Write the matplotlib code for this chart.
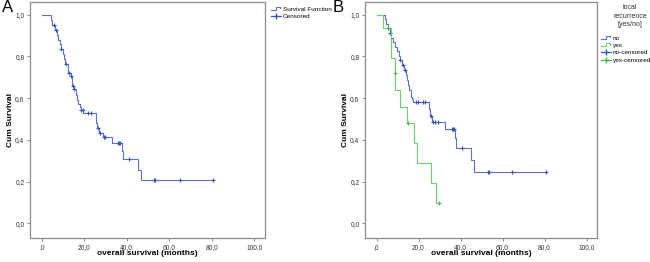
import numpy as np
import matplotlib.pyplot as plt
from matplotlib.lines import Line2D
from matplotlib.legend_handler import HandlerBase

plt.rcParams['font.family'] = ['Liberation Sans', 'DejaVu Sans']

# Panel A: overall Kaplan-Meier curve (event times / survival after each step)
A_TIMES = [0, 4.2, 5.0, 6.2, 7.2, 7.8, 8.5, 9.0, 10.0, 10.6, 11.0, 12.2, 12.6, 13.6,
           14.1, 14.4, 15.2, 16.0, 16.5, 17.3, 17.9, 18.6, 19.6, 25.3, 25.7, 26.0,
           26.8, 28.9, 33.0, 37.7, 38.2, 45.4, 46.5]
A_SURV = [1.0, 0.976, 0.952, 0.928, 0.904, 0.88, 0.857, 0.835, 0.81, 0.787, 0.763,
          0.741, 0.719, 0.705, 0.68, 0.658, 0.642, 0.615, 0.59, 0.574, 0.559, 0.545,
          0.53, 0.503, 0.479, 0.455, 0.431, 0.412, 0.386, 0.345, 0.308, 0.256, 0.207]
A_END = 80.7
A_CENS = [5.6, 6.5, 9.2, 11.3, 12.7, 13.9, 14.6, 15.4, 18.7, 19.2, 21.8, 23.0, 26.4,
          27.6, 29.3, 29.9, 36.0, 36.5, 37.0, 41.2, 52.8, 53.4, 64.8, 80.7]

# Panel B: local recurrence no / yes
NO_TIMES = [0, 4.0, 4.6, 5.3, 6.2, 7.0, 7.6, 8.6, 9.9, 10.8, 11.2, 12.2, 13.0, 14.0,
            14.4, 15.0, 15.3, 16.2, 16.8, 17.5, 24.8, 25.4, 26.3, 32.6, 37.4, 38.0,
            45.0, 46.3]
NO_SURV = [1.0, 0.978, 0.956, 0.934, 0.912, 0.89, 0.868, 0.846, 0.824, 0.80, 0.782,
           0.758, 0.734, 0.71, 0.687, 0.663, 0.639, 0.607, 0.595, 0.583, 0.548, 0.516,
           0.484, 0.452, 0.41, 0.362, 0.303, 0.244]
NO_END = 80.7
NO_CENS = [5.6, 6.4, 11.3, 12.5, 13.6, 18.8, 19.7, 22.2, 23.0, 25.8, 26.8, 27.8, 29.5,
           35.8, 36.3, 36.8, 40.9, 53.0, 53.6, 64.7, 80.7]

YES_TIMES = [0, 3.3, 6.8, 8.7, 9.0, 11.4, 14.3, 17.7, 19.3, 25.7, 28.4]
YES_SURV = [1.0, 0.934, 0.79, 0.719, 0.639, 0.559, 0.482, 0.383, 0.288, 0.192, 0.096]
YES_END = 29.7
YES_CENS = [5.6, 8.8, 14.8, 29.7]

X_TICKS = [0, 20, 40, 60, 80, 100]
X_LABELS = [",0", "20,0", "40,0", "60,0", "80,0", "100,0"]
Y_TICKS = [0, 0.2, 0.4, 0.6, 0.8, 1.0]
Y_LABELS = ["0,0", "0,2", "0,4", "0,6", "0,8", "1,0"]

BLUE = "#5a72cc"
BLUE_DARK = "#3d55b5"
GREEN = "#6cd46c"
GREEN_DARK = "#45b845"


class StepHandler(HandlerBase):
    def create_artists(self, legend, orig_handle, xdescent, ydescent, width, height,
                       fontsize, trans):
        x0 = -xdescent
        xs = [x0, x0 + width * 0.45, x0 + width * 0.45, x0 + width * 0.85, x0 + width * 0.85]
        ys = [height * 0.15, height * 0.15, height * 0.85, height * 0.85, height * 0.5]
        ln = Line2D(xs, ys, color=orig_handle.get_color(), lw=0.8, transform=trans)
        return [ln]


def km(ax, times, surv, end, cens, color, mcolor):
    t = list(times) + [end]
    s = list(surv) + [surv[-1]]
    ax.step(t, s, where='post', color=color, lw=0.8)
    idx = np.searchsorted(times, cens, side='right') - 1
    ax.plot(cens, np.array(surv)[idx], ls='none', marker='+', ms=3.2, mew=0.8, color=mcolor)


def style(ax):
    ax.set_xlim(-5.5, 105)
    ax.set_ylim(-0.07, 1.06)
    ax.set_xticks(X_TICKS)
    ax.set_xticklabels(X_LABELS)
    ax.set_yticks(Y_TICKS)
    ax.set_yticklabels(Y_LABELS)
    ax.tick_params(direction='out', length=2.5, width=0.6, color='#777777',
                   labelsize=4.8, labelcolor='#333333', pad=1.5)
    for sp in ax.spines.values():
        sp.set_color('#8a8a8a')
        sp.set_linewidth(0.9)
    ax.set_xlabel("overall survival (months)", fontsize=6, fontweight='bold')
    ax.set_ylabel("Cum Survival", fontsize=6, fontweight='bold')
    ax.xaxis.set_label_coords(0.5, -0.05)
    ax.yaxis.set_label_coords(-0.07, 0.5)


fig = plt.figure(figsize=(6.5, 2.62), dpi=100)
axA = fig.add_axes([30 / 650, 24 / 262, 235 / 650, 236 / 262])
axB = fig.add_axes([365 / 650, 24 / 262, 232 / 650, 236 / 262])

km(axA, A_TIMES, A_SURV, A_END, A_CENS, BLUE, BLUE_DARK)
style(axA)

km(axB, NO_TIMES, NO_SURV, NO_END, NO_CENS, BLUE, BLUE_DARK)
km(axB, YES_TIMES, YES_SURV, YES_END, YES_CENS, GREEN, GREEN_DARK)
style(axB)

fig.text(2 / 650, 1 - 0 / 262, "A", fontsize=12, va='top', ha='left')
fig.text(333 / 650, 1 - 0 / 262, "B", fontsize=12, va='top', ha='left')

# legend A
hA = [Line2D([], [], color=BLUE), Line2D([], [], color=BLUE_DARK, marker='+', lw=0.8, ms=4)]
fig.legend(hA, ["Survival Function", "Censored"], loc='upper left',
           bbox_to_anchor=(266 / 650, 1 - 1 / 262), frameon=False, fontsize=4.6,
           handlelength=1.6, handletextpad=0.2, labelspacing=0.3, borderpad=0.3,
           handler_map={hA[0]: StepHandler()})

# legend B
fig.text(630 / 650, 1 - 4 / 262, "local\nrecurrence\n[yes/no]", fontsize=5,
         ha='center', va='top', color='#333333', linespacing=1.3)
hB = [Line2D([], [], color=BLUE), Line2D([], [], color=GREEN),
      Line2D([], [], color=BLUE_DARK, marker='+', lw=0.8, ms=4),
      Line2D([], [], color=GREEN_DARK, marker='+', lw=0.8, ms=4)]
fig.legend(hB, ["no", "yes", "no-censored", "yes-censored"], loc='upper left',
           bbox_to_anchor=(596 / 650, 1 - 30 / 262), frameon=False, fontsize=4.6,
           handlelength=1.6, handletextpad=0.2, labelspacing=0.3, borderpad=0.3,
           handler_map={hB[0]: StepHandler(), hB[1]: StepHandler()})

fig.savefig("out.png", dpi=100)
